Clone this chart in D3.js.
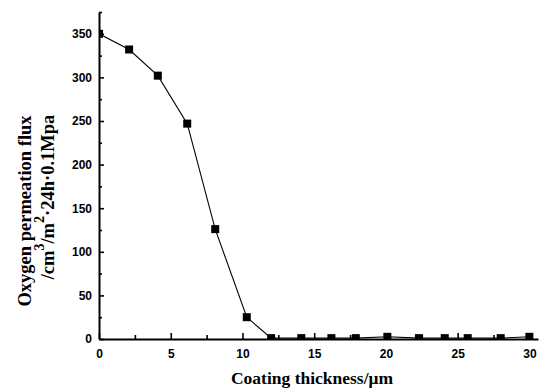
<!DOCTYPE html>
<html>
<head>
<meta charset="utf-8">
<script src="https://cdn.jsdelivr.net/npm/d3@7"></script>
<style>
  body { margin: 0; background: #fff; }
  .tick text { font-family: "Liberation Sans", Arial, sans-serif; font-weight: bold; font-size: 12px; }
  .title { font-family: "Liberation Serif", "Times New Roman", serif; font-weight: bold; font-size: 17.5px; }
  .ytitle { font-size: 18.5px; }
  .sup { font-size: 14px; }
</style>
</head>
<body>
<script>
// coating thickness (um) vs oxygen permeation flux
var thickness = [0, 2.1, 4.1, 6.15, 8.1, 10.3, 12.0, 14.1, 16.2, 17.9, 20.1, 22.3, 24.1, 25.7, 28.0, 30.0];
var flux = [350, 332, 302, 247, 126, 25, 1, 1, 1, 1, 2.5, 1, 1, 1, 1, 2.5];
var xTicks = [0, 5, 10, 15, 20, 25, 30];
var yTicks = [0, 50, 100, 150, 200, 250, 300, 350];

var w = 539, h = 389;
var pLeft = 99, pRight = 538, pTop = 12, pBottom = 339;

var svg = d3.select("body").append("svg")
    .attr("width", w)
    .attr("height", h);

var x = d3.scaleLinear().domain([0, 30.6]).range([pLeft, pRight]);
var y = d3.scaleLinear().domain([0, 375]).range([pBottom, pTop]);

svg.append("clipPath").attr("id", "plot")
  .append("rect")
    .attr("x", pLeft).attr("y", pTop)
    .attr("width", pRight - pLeft).attr("height", pBottom - pTop);

var points = thickness.map(function(d, i) { return [d, flux[i]]; });

var g = svg.append("g").attr("clip-path", "url(#plot)");

var line = d3.line()
    .x(function(d) { return x(d[0]); })
    .y(function(d) { return y(d[1]); });

g.append("path")
    .datum(points)
    .attr("d", line)
    .attr("fill", "none")
    .attr("stroke", "#000")
    .attr("stroke-width", 1.1);

g.selectAll(".pt")
    .data(points)
    .enter().append("rect")
    .attr("class", "pt")
    .attr("x", function(d) { return x(d[0]) - 4; })
    .attr("y", function(d) { return y(d[1]) - 4; })
    .attr("width", 8)
    .attr("height", 8)
    .attr("fill", "#000");

// minor ticks
svg.append("g")
    .attr("transform", "translate(0," + pBottom + ")")
    .call(d3.axisBottom(x).tickValues(d3.range(2.5, 30.6, 5)).tickSize(-4).tickFormat(""))
    .call(function(s) { s.select(".domain").remove(); });

svg.append("g")
    .attr("transform", "translate(" + pLeft + ",0)")
    .call(d3.axisLeft(y).tickValues(d3.range(25, 376, 50)).tickSize(-3).tickFormat(""))
    .call(function(s) { s.select(".domain").remove(); });

// major axes
svg.append("g")
    .attr("transform", "translate(0," + pBottom + ")")
    .call(d3.axisBottom(x).tickValues(xTicks).tickSizeInner(-6).tickSizeOuter(0).tickPadding(10));

svg.append("g")
    .attr("transform", "translate(" + pLeft + ",0)")
    .call(d3.axisLeft(y).tickValues(yTicks).tickSizeInner(-5).tickSizeOuter(0).tickPadding(7));

svg.selectAll(".tick line").attr("stroke-width", 1.6);
svg.selectAll(".domain").attr("stroke-width", 2);

// titles
svg.append("text")
    .attr("class", "title")
    .attr("x", 312)
    .attr("y", 384)
    .attr("text-anchor", "middle")
    .text("Coating thickness/\u03bcm");

svg.append("text")
    .attr("class", "title ytitle")
    .attr("transform", "translate(31,211) rotate(-90)")
    .attr("text-anchor", "middle")
    .text("Oxygen permeation flux");

var t2 = svg.append("text")
    .attr("class", "title ytitle")
    .attr("transform", "translate(54,197) rotate(-90)")
    .attr("text-anchor", "middle");
t2.append("tspan").text("/cm");
t2.append("tspan").attr("class", "sup").attr("dy", -10).text("3");
t2.append("tspan").attr("dy", 10).text("/m");
t2.append("tspan").attr("class", "sup").attr("dy", -10).text("2");
t2.append("tspan").attr("dy", 10).text("\u00b724h\u00b70.1Mpa");
</script>
</body>
</html>
